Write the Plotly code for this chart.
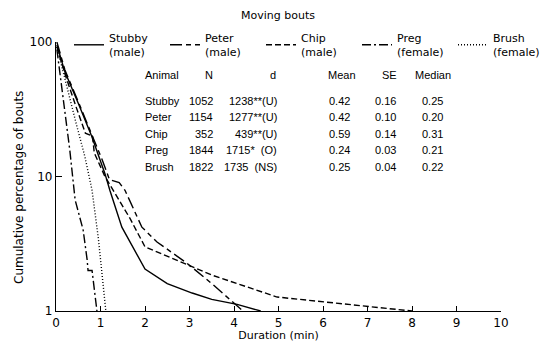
import plotly.graph_objects as go

# ---- data ----
stubby_x = [0.02, 0.2, 0.5, 0.8, 1.1, 1.21, 1.48, 2.0, 2.5, 3.06, 3.5, 4.07, 4.6]
stubby_y = [95, 60, 35, 20, 10.5, 7.9, 4.2, 2.05, 1.6, 1.36, 1.22, 1.12, 1.0]

peter_x = [0.02, 0.2, 0.5, 0.8, 1.05, 1.2, 1.42, 1.55, 1.93, 2.27, 2.94, 3.5, 3.98, 4.2]
peter_y = [100, 62, 36, 21, 13, 9.5, 9.0, 7.9, 4.2, 3.26, 2.27, 1.6, 1.15, 1.0]

chip_x = [0.02, 0.2, 0.45, 0.66, 0.82, 0.86, 1.1, 1.28, 1.66, 2.0, 2.83, 3.5, 4.97, 6.0, 7.0, 7.5, 8.0]
chip_y = [92, 58, 33, 21, 20, 15, 10, 7.9, 4.9, 3.0, 2.3, 1.85, 1.27, 1.17, 1.09, 1.05, 1.0]

preg_x = [0.02, 0.1, 0.2, 0.31, 0.43, 0.61, 0.70, 0.72, 0.81, 0.92]
preg_y = [88, 55, 30, 15.7, 6.7, 4.0, 2.4, 2.0, 2.0, 1.0]

brush_x = [0.02, 0.1, 0.25, 0.45, 0.65, 0.81, 0.95, 1.06, 1.12]
brush_y = [92, 72, 45, 25, 14, 7.9, 3.5, 1.43, 1.0]

series_names = ["Stubby<br>(male)", "Peter<br>(male)", "Chip<br>(male)", "Preg<br>(female)", "Brush<br>(female)"]

# table
animals = ["Stubby", "Peter", "Chip", "Preg", "Brush"]
n_vals = [1052, 1154, 352, 1844, 1822]
d_vals = ["1238**(U)", "1277**(U)", "439**(U)", "1715*  (O)", "1735  (NS)"]
mean_vals = ["0.42", "0.42", "0.59", "0.24", "0.25"]
se_vals = ["0.16", "0.10", "0.14", "0.03", "0.04"]
median_vals = ["0.25", "0.20", "0.31", "0.21", "0.22"]

x_ticks = list(range(0, 11))
y_ticks = [1, 10, 100]

# ---- layout geometry ----
W, H = 547, 343
L, R, T, B = 56, 46, 42, 32
PW, PH = W - L - R, H - T - B


def px(x):
    return (x - L) / PW


def py(y):
    return (H - B - y) / PH


FONT = "Liberation Sans, Arial, sans-serif"
WIDE = "DejaVu Sans, sans-serif"

fig = go.Figure()
dashes = ["solid", "12px,4px,5px,4px", "6px,3px", "9px,3px,2px,3px", "1px,2px"]
xs = [stubby_x, peter_x, chip_x, preg_x, brush_x]
ys = [stubby_y, peter_y, chip_y, preg_y, brush_y]
for name, x, y, d in zip(series_names, xs, ys, dashes):
    fig.add_trace(go.Scatter(x=x, y=y, mode="lines", name=name,
                             line=dict(color="black", width=1.4, dash=d)))

annotations = []
# title
annotations.append(dict(x=px(278), y=py(16), xref="paper", yref="paper", text="Moving bouts",
                        showarrow=False, xanchor="center", yanchor="middle",
                        font=dict(size=11, family=WIDE, color="black")))
# y axis title
annotations.append(dict(x=px(19), y=py(188), xref="paper", yref="paper",
                        text="Cumulative percentage of bouts", textangle=-90,
                        showarrow=False, xanchor="center", yanchor="middle",
                        font=dict(size=12, family=WIDE, color="black")))

# table header
hdr_y = py(75)
hdr = [("Animal", 143, "left"), ("N", 209, "center"), ("d", 273, "center"),
       ("Mean", 326, "left"), ("SE", 389, "center"), ("Median", 413, "left")]
for t, xx, al in hdr:
    annotations.append(dict(x=px(xx), y=hdr_y, xref="paper", yref="paper", text=t, showarrow=False,
                            xanchor=al, yanchor="middle", font=dict(size=11, family=FONT, color="black")))

row_y = [101, 117, 134, 150, 167]
for i in range(len(animals)):
    yy = py(row_y[i])
    cells = [(animals[i], 143, "left"), (str(n_vals[i]), 215, "right"), (d_vals[i], 279, "right"),
             (mean_vals[i], 327, "left"), (se_vals[i], 398, "right"), (median_vals[i], 420, "left")]
    for t, xx, al in cells:
        annotations.append(dict(x=px(xx), y=yy, xref="paper", yref="paper", text=t, showarrow=False,
                                xanchor=al, yanchor="middle",
                                font=dict(size=11, family=FONT, color="black")))

fig.update_layout(
    width=W, height=H,
    margin=dict(l=L, r=R, t=T, b=B, autoexpand=False),
    paper_bgcolor="white", plot_bgcolor="white",
    font=dict(family=FONT, size=11, color="black"),
    showlegend=True,
    legend=dict(orientation="h", x=px(549), y=py(24), xanchor="right", yanchor="top",
                entrywidth=51, entrywidthmode="pixels", valign="middle",
                font=dict(size=11, family=WIDE, color="black"),
                bgcolor="rgba(0,0,0,0)", tracegroupgap=0, itemwidth=30),
    annotations=annotations,
    xaxis=dict(range=[0, 10], tickvals=x_ticks, ticktext=[str(v) for v in x_ticks],
               showline=True, linecolor="black", linewidth=1.2, ticks="inside", ticklen=5,
               tickcolor="black", showgrid=False, zeroline=False, automargin=False,
               title=dict(text="Duration (min)", font=dict(size=11, family=WIDE), standoff=2),
               tickfont=dict(size=12, family=WIDE)),
    yaxis=dict(type="log", range=[0, 2], tickvals=y_ticks, ticktext=[str(v) for v in y_ticks],
               showline=True, linecolor="black", linewidth=1.2, ticks="inside", ticklen=6,
               tickcolor="black", showgrid=False, zeroline=False, automargin=False,
               tickfont=dict(size=12, family=WIDE)),
)

fig.write_html("out.html")
